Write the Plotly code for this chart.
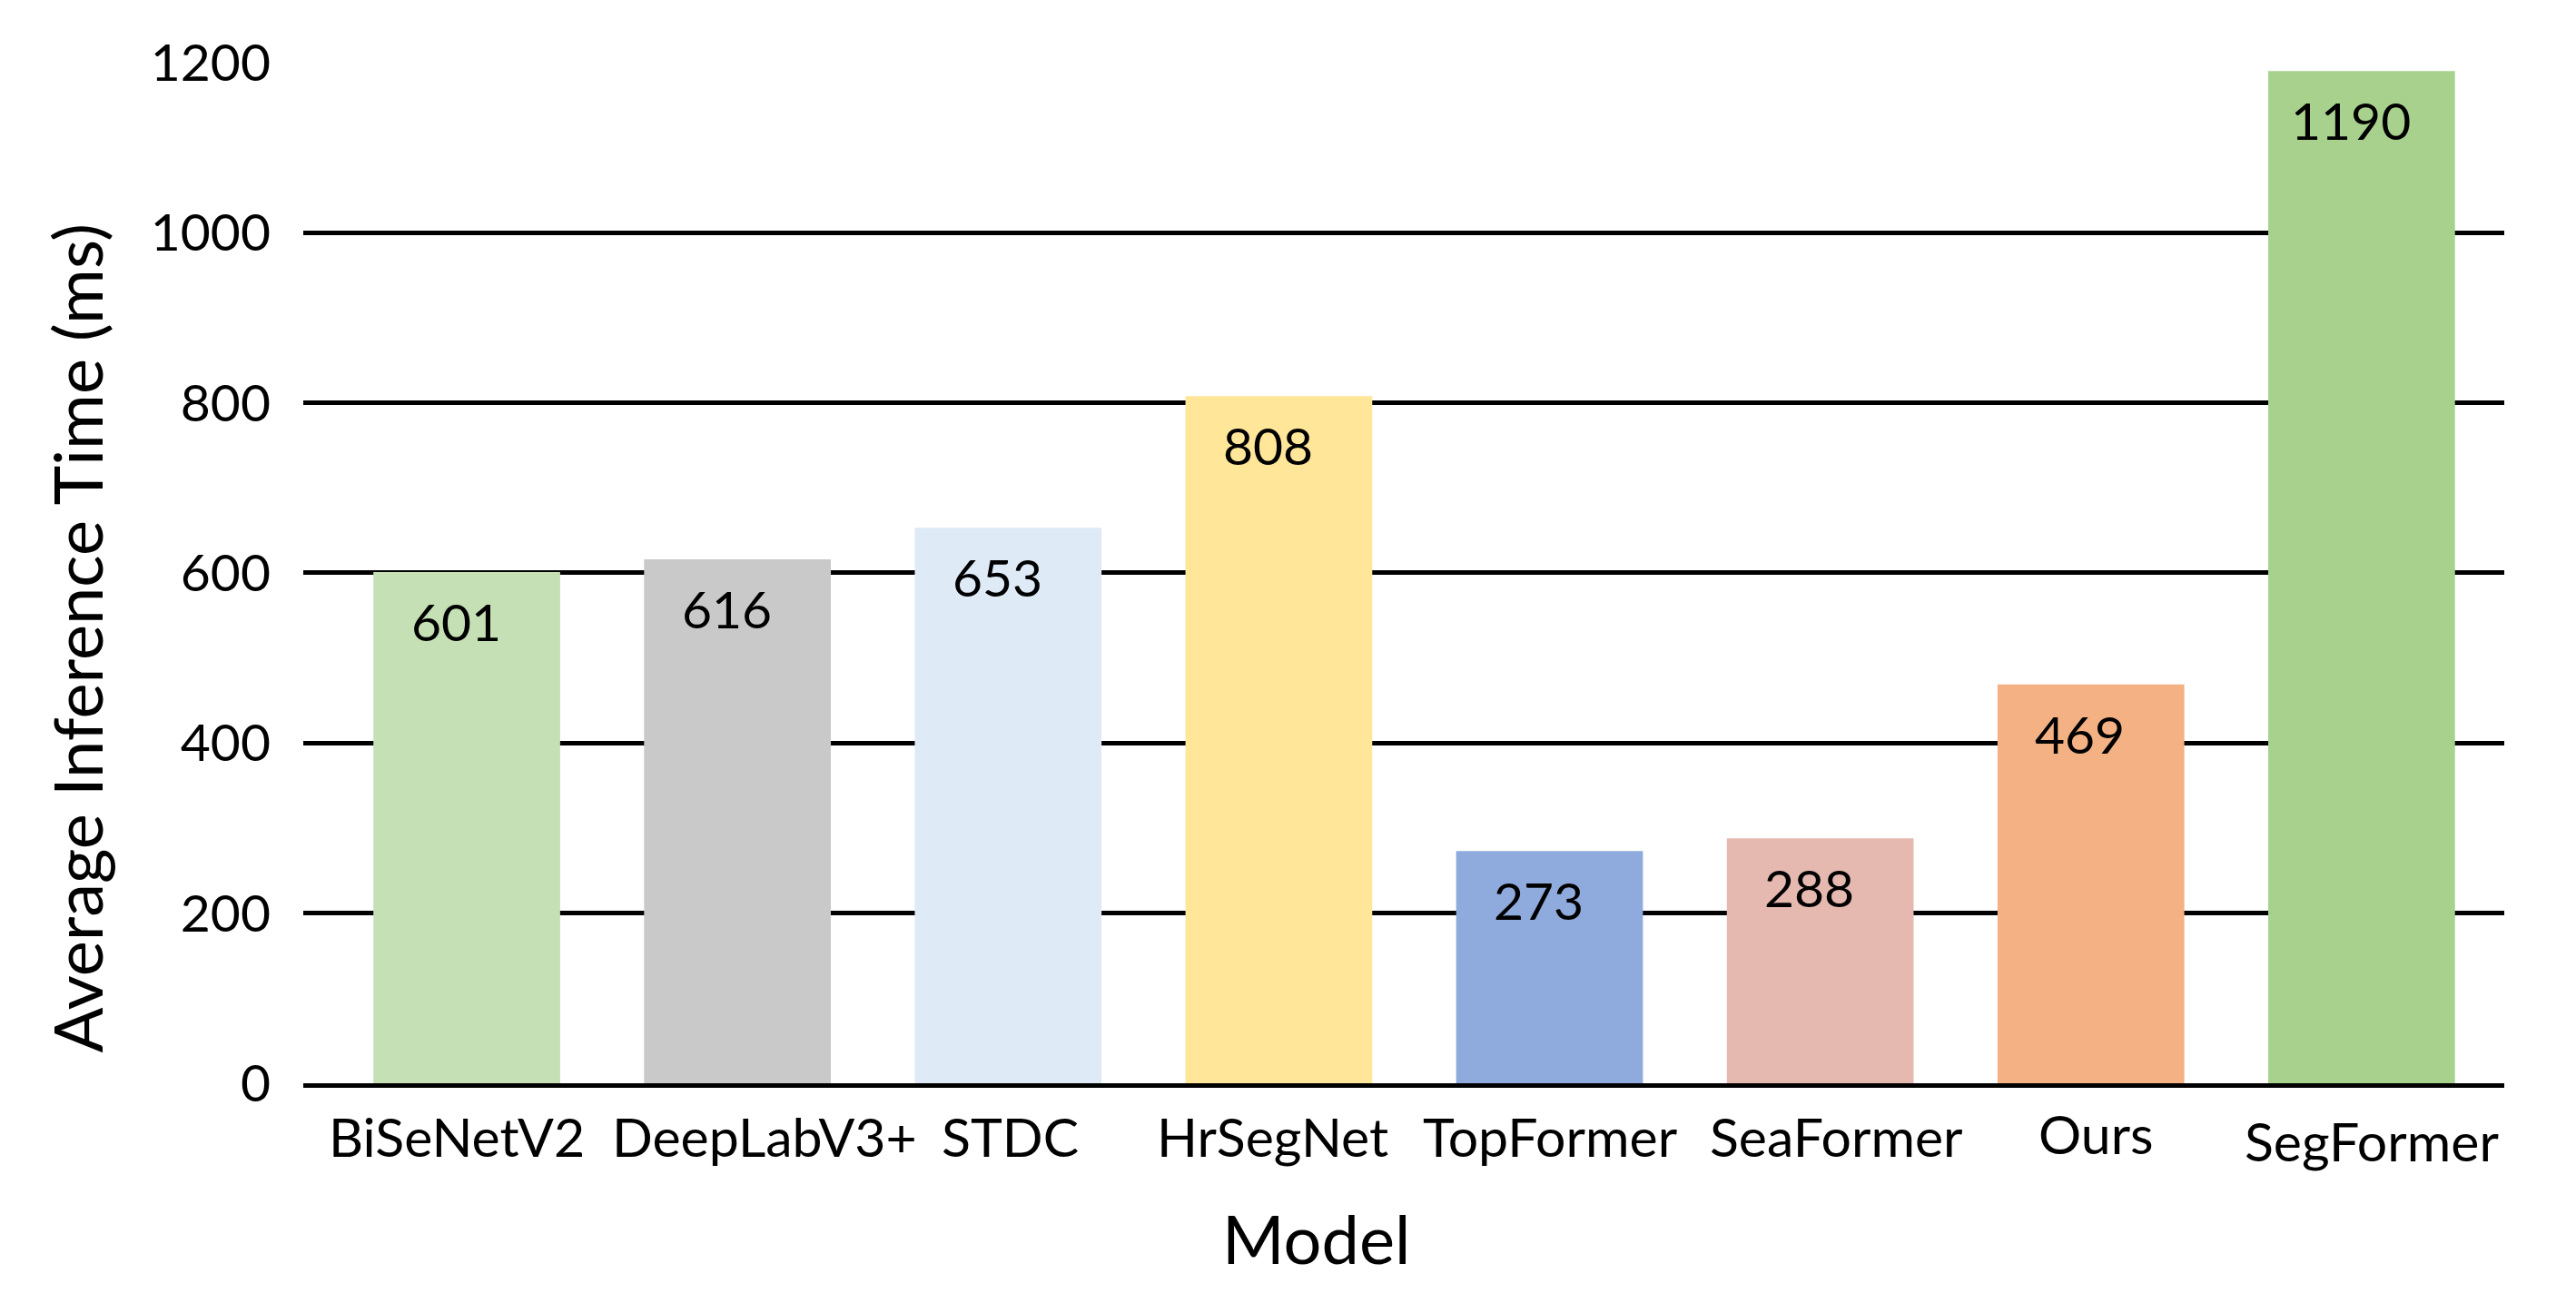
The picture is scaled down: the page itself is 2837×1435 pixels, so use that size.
import plotly.graph_objects as go

models = ["BiSeNetV2", "DeepLabV3+", "STDC", "HrSegNet", "TopFormer", "SeaFormer", "Ours", "SegFormer"]
times = [601, 616, 653, 808, 273, 288, 469, 1190]
colors = ["#C5E0B4", "#C9C9C9", "#DEEBF7", "#FFE699", "#8FAADC", "#E5B9B0", "#F4B183", "#A9D18E"]
label_xshift = [-11, 30, 2, -7, 1, 18, 6, 11]
label_yshift = [-58, -58, -58, -58, -58, -58, -55, -63]
y_ticks = [0, 200, 400, 600, 800, 1000, 1200]

FONT = "Lato, Carlito, Calibri, sans-serif"
W, H = 2837, 1435
L, R, T, B = 326, 87, 60, 250

fig = go.Figure()
fig.add_trace(go.Bar(
    x=list(range(len(models))), y=times,
    marker=dict(color=colors, line=dict(width=0)),
    width=0.69,
    hoverinfo="skip",
))

annotations = []
for i, (m, v) in enumerate(zip(models, times)):
    annotations.append(dict(
        x=i, y=v, xref="x", yref="y", text=str(v), showarrow=False,
        xanchor="center", yanchor="middle", yshift=-54, xshift=-12,
        font=dict(family=FONT, size=57, color="black"),
    ))
    annotations.append(dict(
        x=i, y=0, xref="x", yref="y", text=m, showarrow=False,
        xanchor="center", yanchor="middle", yshift=label_yshift[i], xshift=label_xshift[i],
        font=dict(family=FONT, size=59, color="black"),
    ))

annotations.append(dict(
    x=0, y=0.5, xref="paper", yref="paper", text="Average Inference Time (ms)",
    showarrow=False, textangle=-90, xanchor="center", yanchor="middle",
    xshift=-250, yshift=-72,
    font=dict(family=FONT, size=74, color="black"),
))
annotations.append(dict(
    x=0.5, y=0, xref="paper", yref="paper", text="Model",
    showarrow=False, xanchor="center", yanchor="middle",
    xshift=1442 - (L + (W - R - L) / 2), yshift=-(1355 - (H - B)),
    font=dict(family=FONT, size=74, color="black"),
))

fig.update_layout(
    width=W, height=H,
    margin=dict(l=L, r=R, t=T, b=B, pad=0),
    paper_bgcolor="white", plot_bgcolor="white",
    showlegend=False,
    annotations=annotations,
    xaxis=dict(
        range=[-0.604, 7.527], showticklabels=False, showgrid=False, zeroline=False,
        showline=True, linecolor="black", linewidth=5, ticks="",
    ),
    yaxis=dict(
        range=[0, 1201], tickvals=y_ticks, ticktext=[str(t) for t in y_ticks],
        showgrid=True, gridcolor="black", gridwidth=4.5, zeroline=False,
        showline=False, ticks="", ticklabelstandoff=35,
        tickfont=dict(family=FONT, size=57, color="black"),
    ),
)

fig.write_html("out.html")
